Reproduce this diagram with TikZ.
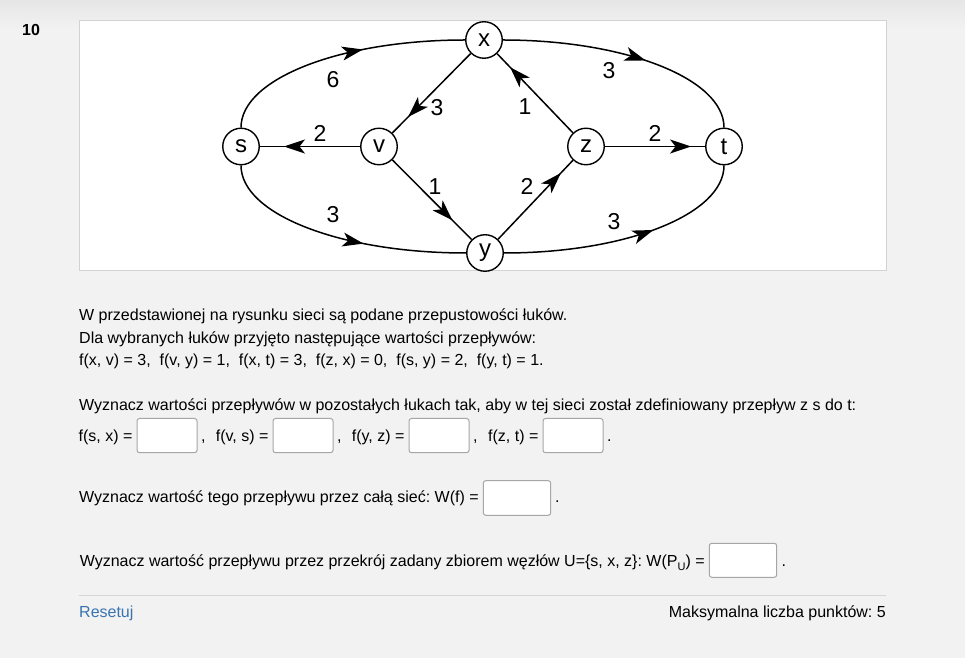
\documentclass[tikz,border=0pt]{standalone}
\usepackage{fontspec}
\setmainfont{Liberation Sans}
\frenchspacing
\usetikzlibrary{arrows.meta,decorations.markings}
\definecolor{pagebg}{HTML}{F2F2F2}
\definecolor{pagetop}{HTML}{E6E6E6}
\definecolor{panelline}{HTML}{D2D2D2}
\definecolor{boxline}{HTML}{A6A6A6}
\definecolor{rulecol}{HTML}{D6D6D6}
\definecolor{linkblue}{HTML}{3A74B0}
\tikzset{
  gnode/.style={circle,draw,line width=1.4pt,fill=white,inner sep=0pt,minimum size=36.5pt,
    font=\fontsize{24}{24}\selectfont},
  glabel/.style={inner sep=0pt,font=\fontsize{23}{23}\selectfont},
  edge/.style={line width=1.5pt},
  midarr/.style={postaction={decorate},decoration={markings,
    mark=at position #1 with {\arrow{Stealth[length=21pt,width=14pt,inset=5.5pt]}}}},
  txt/.style={inner sep=0pt,font=\fontsize{16}{19}\selectfont},
  ansbox/.style={draw=boxline,fill=white,rounded corners=2.5pt,line width=1pt}
}
\begin{document}
\begin{tikzpicture}[x=1pt,y=1pt]
\useasboundingbox (0,0) rectangle (965,658);
\fill[pagebg] (0,0) rectangle (965,658);
\shade[top color=pagetop,bottom color=pagebg] (0,628) rectangle (965,658);
% number
\node[txt,anchor=base west,font=\fontsize{16}{19}\selectfont\bfseries] (num) at (22,622) {10};
% panel
\draw[panelline,fill=white,line width=1pt] (79.5,637) rectangle (886,387);
% graph nodes
\node[gnode] (s) at (241,511.5) {s};
\node[gnode] (v) at (379,511.5) {v};
\node[gnode] (z) at (586,511.5) {z};
\node[gnode] (t) at (724,511.5) {t};
\node[gnode] (x) at (484,618) {x};
\node[gnode] (y) at (485,405) {y};
% curved edges
\draw[edge,midarr=0.6] (s.north) to[out=90,in=180,out distance=49pt,in distance=124pt] (x.west);
\draw[edge,midarr=0.57] (x.east) to[out=0,in=90,out distance=122pt,in distance=49pt] (t.north);
\draw[edge,midarr=0.6] (s.south) to[out=-90,in=180,out distance=49pt,in distance=125pt] (y.west);
\draw[edge,midarr=0.6] (y.east) to[out=0,in=-90,out distance=122pt,in distance=49pt] (t.south);
% straight edges
\draw[edge,midarr=0.8] (x) -- (v);
\draw[edge,midarr=0.76] (v) -- (s);
\draw[edge,midarr=0.76] (v) -- (y);
\draw[edge,midarr=0.84] (y) -- (z);
\draw[edge,midarr=0.83] (z) -- (x);
\draw[edge,midarr=0.86] (z) -- (t);
% capacities
\node[glabel] (c1) at (333,578) {6};
\node[glabel] (c2) at (609,587) {3};
\node[glabel] (c3) at (333,443) {3};
\node[glabel] (c4) at (614,436) {3};
\node[glabel] (c5) at (437,550) {3};
\node[glabel] (c6) at (320,525) {2};
\node[glabel] (c7) at (435,471) {1};
\node[glabel] (c8) at (527,472) {2};
\node[glabel] (c9) at (525,551) {1};
\node[glabel] (c10) at (655,525) {2};
% text
\node[txt,anchor=base west] (l1) at (79,337) {W przedstawionej na rysunku sieci są podane przepustowości łuków.};
\node[txt,anchor=base west] (l2) at (79,314.5) {Dla wybranych łuków przyjęto następujące wartości przepływów:};
\node[txt,anchor=base west] (l3) at (79,292) {f(x, v) = 3,\ \ f(v, y) = 1,\ \ f(x, t) = 3,\ \ f(z, x) = 0,\ \ f(s, y) = 2,\ \ f(y, t) = 1.};
\node[txt,anchor=base west] (l4) at (79,247.3) {Wyznacz wartości przepływów w pozostałych łukach tak, aby w tej sieci został zdefiniowany przepływ z s do t:};
% line 5 with boxes
\draw[ansbox] (137,239.5) rectangle (197,205.3) coordinate (b1);
\draw[ansbox] (273,239.5) rectangle (333,205.3) coordinate (b2);
\draw[ansbox] (409,239.5) rectangle (469,205.3) coordinate (b3);
\draw[ansbox] (543,239.5) rectangle (603,205.3) coordinate (b4);
\node[txt,anchor=base east] (f1) at (132.6,216.3) {f(s, x) =};
\node[txt,anchor=base west] (k1) at (201,216.3) {,};
\node[txt,anchor=base east] (f2) at (268.6,216.3) {f(v, s) =};
\node[txt,anchor=base west] (k2) at (337,216.3) {,};
\node[txt,anchor=base east] (f3) at (404.6,216.3) {f(y, z) =};
\node[txt,anchor=base west] (k3) at (473,216.3) {,};
\node[txt,anchor=base east] (f4) at (538.6,216.3) {f(z, t) =};
\node[txt,anchor=base west] (k4) at (607,216.3) {.};
% line 6
\draw[ansbox] (483.3,177.3) rectangle (550.7,142.7) coordinate (b5);
\node[txt,anchor=base east] (l6) at (478.9,155) {Wyznacz wartość tego przepływu przez całą sieć: W(f) =};
\node[txt,anchor=base west] (k5) at (555,155) {.};
% line 7
\draw[ansbox] (709.3,114.7) rectangle (776.7,80.7) coordinate (b6);
\node[txt,anchor=base east] (l7) at (704.9,91.3) {Wyznacz wartość przepływu przez przekrój zadany zbiorem węzłów U=\{s, x, z\}: W(P\raisebox{-3.5pt}{\fontsize{11}{11}\selectfont U}) =};
\node[txt,anchor=base west] (k6) at (781.5,91.3) {.};
% footer
\draw[rulecol,line width=1pt] (79,63) -- (886,63);
\node[txt,anchor=base west,text=linkblue] (reset) at (79,41) {Resetuj};
\node[txt,anchor=base east] (pts) at (886,41) {Maksymalna liczba punktów: 5};
\end{tikzpicture}
\end{document}
